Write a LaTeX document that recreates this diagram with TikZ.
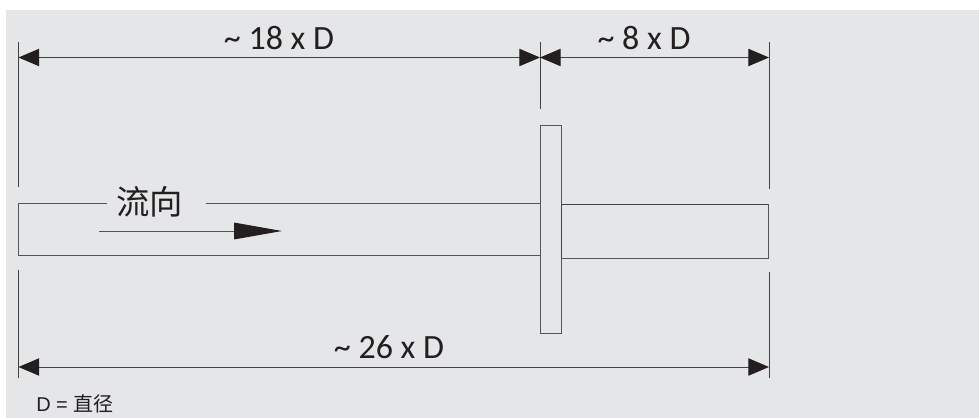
\documentclass[tikz,border=0pt]{standalone}
\usepackage{fontspec}
\setmainfont{Carlito}
\newfontfamily\cjk{Noto Sans CJK SC}
\newfontfamily\notefont{Liberation Sans}
\usetikzlibrary{arrows.meta}
\definecolor{bgc}{HTML}{E5E6E8}
\definecolor{ink}{HTML}{231F20}
\definecolor{lin}{HTML}{555555}
\tikzset{
  x=0.75pt,y=-0.75pt,
  thin line/.style={draw=lin,line width=0.75pt},
  ext line/.style={draw=ink!85,line width=0.75pt},
  dim line/.style={draw=ink!85,line width=0.75pt,{Triangle[length=15.5pt,width=13pt,fill=ink,color=ink]}-{Triangle[length=15.5pt,width=13pt,fill=ink,color=ink]},shorten <=0pt,shorten >=0pt},
  flow line/.style={draw=lin,line width=0.75pt,-{Triangle[length=36pt,width=12.5pt,fill=ink,color=ink]}},
  dim label/.style={font=\fontsize{25.5}{27}\selectfont,text=ink,inner sep=0pt,anchor=base},
  flow label/.style={font=\cjk\fontsize{25}{27}\selectfont,text=ink,inner sep=0pt},
  note label/.style={font=\notefont\fontsize{15}{17}\selectfont,text=ink,inner sep=0pt,anchor=base west},
}
\begin{document}
\begin{tikzpicture}
\useasboundingbox (0,0) rectangle (979,418);
\fill[bgc] (6,10) rectangle (979,418);
% extension line end points
\coordinate (LT) at (18.5,42);
\coordinate (LB) at (18.5,187);
\coordinate (MT) at (540,42);
\coordinate (MB) at (540,109);
\coordinate (RT) at (769,42);
\coordinate (RB) at (769,189);
\coordinate (LT2) at (18.5,270);
\coordinate (LB2) at (18.5,378);
\coordinate (RT2) at (769,272);
\coordinate (RB2) at (769,378);
\draw[ext line] (LT) -- (LB);
\draw[ext line] (MT) -- (MB);
\draw[ext line] (RT) -- (RB);
\draw[ext line] (LT2) -- (LB2);
\draw[ext line] (RT2) -- (RB2);
% dimension ends
\coordinate (A1) at (18.5,57.5);
\coordinate (A2) at (540,57.5);
\coordinate (A3) at (769,57.5);
\coordinate (A4) at (18.5,367);
\coordinate (A5) at (769,367);
\draw[dim line] (A1) -- (A2);
\draw[dim line] (A2) -- (A3);
\draw[dim line] (A4) -- (A5);
% pipes
\coordinate (P1) at (107,203);
\coordinate (P2) at (18.5,203);
\coordinate (P3) at (18.5,255);
\coordinate (P4) at (540,255);
\coordinate (P5) at (206,203);
\coordinate (P6) at (540,203);
\draw[thin line] (P1) -- (P2) -- (P3) -- (P4);
\draw[thin line] (P5) -- (P6);
\coordinate (F1) at (540,125);
\coordinate (F2) at (561,333);
\draw[thin line,draw=lin] (F1) rectangle (F2);
\coordinate (R1) at (561,204);
\coordinate (R2) at (768,258);
\draw[ext line] (R1) -- (R2 |- R1);
\draw[thin line] (R2 |- R1) -- (R2) -- (R1 |- R2);
\draw[ext line] (R1) -- (R1 |- R2);
% flow arrow
\coordinate (W1) at (99,231);
\coordinate (W2) at (282,231);
\draw[flow line] (W1) -- (W2);
% labels
\node[dim label] (t18) at (279,49) {\char`\~\ 18 x D};
\node[dim label] (t8) at (644,49) {\char`\~\ 8 x D};
\node[dim label] (t26) at (389,358) {\char`\~\ 26 x D};
\node[flow label] (flow) at (149.5,202) {流向};
\node[note label] (note) at (36,411) {D = {\cjk 直径}};
\end{tikzpicture}
\end{document}
